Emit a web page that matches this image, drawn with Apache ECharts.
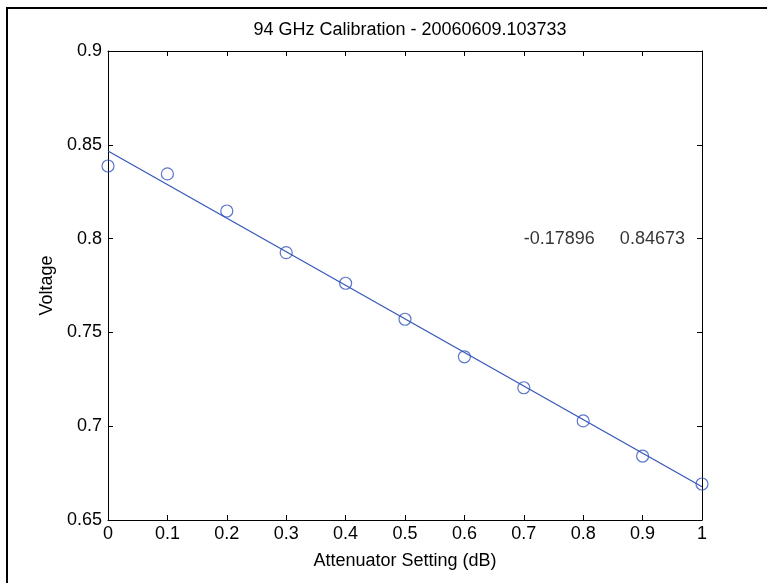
<!DOCTYPE html>
<html>
<head>
<meta charset="utf-8">
<script src="https://cdn.jsdelivr.net/npm/echarts@6/dist/echarts.min.js"></script>
<style>
html, body { margin: 0; padding: 0; background: #fff; }
#main { width: 767px; height: 583px; }
</style>
</head>
<body>
<div id="main"></div>
<script>
// attenuator settings (dB) and measured voltages
var settings = [0, 0.1, 0.2, 0.3, 0.4, 0.5, 0.6, 0.7, 0.8, 0.9, 1];
var voltages = [0.8387, 0.8345, 0.8147, 0.7925, 0.7762, 0.7570, 0.7370, 0.7205, 0.7028, 0.6841, 0.6692];
// linear fit line end points
var fitX = [0, 1];
var fitY = [0.84673, 0.66777];
// fit coefficients text, placed in data coords
var fitText = ['-0.17896', '0.84673'];
var fitTextPos = [0.7, 0.8];

var blue = '#3355bb';
var font = 'Liberation Sans, Arial, sans-serif';
var fs = 18;

var points = settings.map(function (x, i) { return [x, voltages[i]]; });
var fitLine = fitX.map(function (x, i) { return [x, fitY[i]]; });

var myChart = echarts.init(document.getElementById('main'));
var option = {
    animation: false,
    backgroundColor: '#fff',
    title: {
        text: '94 GHz Calibration - 20060609.103733',
        left: 405,
        textAlign: 'center',
        top: 16,
        textStyle: { fontFamily: font, fontSize: fs, fontWeight: 'normal', color: '#000' }
    },
    grid: { left: 108, right: 65, top: 51, bottom: 63 },
    xAxis: [{
        type: 'value',
        min: 0, max: 1, interval: 0.1,
        name: 'Attenuator Setting (dB)',
        nameLocation: 'middle',
        nameGap: 32,
        nameTextStyle: { fontFamily: font, fontSize: fs, color: '#000' },
        axisLine: { onZero: false, lineStyle: { color: '#000', width: 1 } },
        axisTick: { inside: true, length: 5, lineStyle: { color: '#000' } },
        axisLabel: { fontFamily: font, fontSize: fs, color: '#000', margin: 5 },
        splitLine: { show: false }
    }, {
        type: 'value',
        position: 'top',
        min: 0, max: 1, interval: 0.1,
        axisLine: { onZero: false, lineStyle: { color: '#000', width: 1 } },
        axisTick: { inside: true, length: 5, lineStyle: { color: '#000' } },
        axisLabel: { show: false },
        splitLine: { show: false }
    }],
    yAxis: [{
        type: 'value',
        min: 0.65, max: 0.9, interval: 0.05,
        name: 'Voltage',
        nameLocation: 'middle',
        nameGap: 52,
        nameTextStyle: { fontFamily: font, fontSize: fs, color: '#000' },
        axisLine: { onZero: false, lineStyle: { color: '#000', width: 1 } },
        axisTick: { inside: true, length: 5, lineStyle: { color: '#000' } },
        axisLabel: { fontFamily: font, fontSize: fs, color: '#000', margin: 6 },
        splitLine: { show: false }
    }, {
        type: 'value',
        position: 'right',
        min: 0.65, max: 0.9, interval: 0.05,
        axisLine: { onZero: false, lineStyle: { color: '#000', width: 1 } },
        axisTick: { inside: true, length: 5, lineStyle: { color: '#000' } },
        axisLabel: { show: false },
        splitLine: { show: false }
    }],
    series: [{
        name: 'measured',
        type: 'scatter',
        data: points,
        symbol: 'circle',
        symbolSize: 12,
        itemStyle: { color: 'rgba(0,0,0,0)', borderColor: blue, borderWidth: 1.2 },
        z: 3
    }, {
        name: 'fit',
        type: 'line',
        data: fitLine,
        showSymbol: false,
        lineStyle: { color: blue, width: 1.2 },
        z: 2
    }, {
        name: 'coef',
        type: 'scatter',
        data: [fitTextPos],
        symbolSize: 0,
        silent: true,
        label: {
            show: true,
            position: 'right',
            distance: 0,
            formatter: fitText.join('     '),
            fontFamily: font, fontSize: fs, color: '#000'
        }
    }],
    graphic: [{
        type: 'polyline',
        shape: { points: [[7, 600], [7, 8], [780, 8]] },
        style: { stroke: '#000', lineWidth: 2, fill: null }
    }]
};
myChart.setOption(option);
</script>
</body>
</html>
